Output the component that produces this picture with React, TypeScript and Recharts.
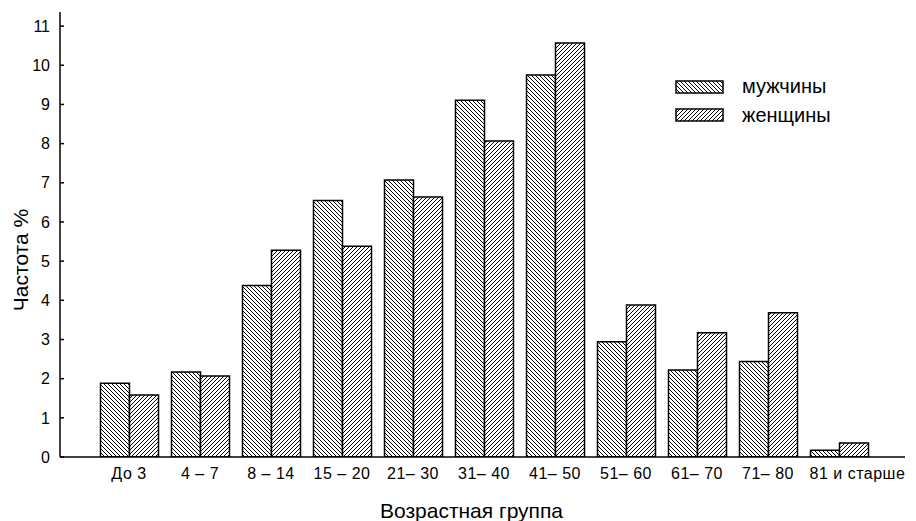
import React from 'react';
import { BarChart, Bar, XAxis, YAxis, Legend } from 'recharts';

const categories = ['До 3', '4 – 7', '8 – 14', '15 – 20', '21– 30', '31– 40', '41– 50', '51– 60', '61– 70', '71– 80', '81 и старше'];
const menValues = [1.88, 2.17, 4.38, 6.55, 7.07, 9.11, 9.75, 2.94, 2.22, 2.44, 0.17];
const womenValues = [1.58, 2.07, 5.28, 5.38, 6.64, 8.07, 10.57, 3.88, 3.17, 3.68, 0.36];
const yTicks = [0, 1, 2, 3, 4, 5, 6, 7, 8, 9, 10, 11];
const seriesNames = { men: 'мужчины', women: 'женщины' };
const xTitle = 'Возрастная группа';
const yTitle = 'Частота %';

const data = categories.map((c, i) => ({ group: c, men: menValues[i], women: womenValues[i] }));

const FONT = '"Liberation Sans", Arial, Helvetica, sans-serif';

const Patterns = ({ prefix }: { prefix: string }) => (
  <defs>
    <pattern id={`${prefix}-men`} patternUnits="userSpaceOnUse" width="4" height="4">
      <rect width="4" height="4" fill="#fff" />
      <path d="M0,0 L4,4 M-1,3 L1,5 M3,-1 L5,1" stroke="#000" strokeWidth="1" />
    </pattern>
    <pattern id={`${prefix}-women`} patternUnits="userSpaceOnUse" width="4" height="4">
      <rect width="4" height="4" fill="#fff" />
      <path d="M0,4 L4,0 M-1,1 L1,-1 M3,5 L5,3" stroke="#000" strokeWidth="1" />
    </pattern>
  </defs>
);

const XTick = (props: any) => {
  const { x, y, payload, index } = props;
  const last = index === categories.length - 1;
  return (
    <text
      x={last ? x - 29.5 : x}
      y={y + 22}
      textAnchor={last ? 'start' : 'middle'}
      fontFamily={FONT}
      fontSize={16}
      letterSpacing={0.5}
      fill="#000"
    >
      {payload.value}
    </text>
  );
};

const YTick = (props: any) => {
  const { x, y, payload } = props;
  return (
    <g>
      <line x1={x + 10} x2={x + 14} y1={y} y2={y} stroke="#000" strokeWidth={1.5} />
      <text x={x} y={y} dy="0.355em" textAnchor="end" fontFamily={FONT} fontSize={16} fill="#000">
        {payload.value}
      </text>
    </g>
  );
};

const LegendContent = () => (
  <svg width={200} height={60} style={{ display: 'block' }}>
    <Patterns prefix="lg" />
    <rect x={6} y={6} width={47} height={12} fill="url(#lg-men)" stroke="#000" strokeWidth={1.5} />
    <text x={72} y={18} fontFamily={FONT} fontSize={20} fill="#000">{seriesNames.men}</text>
    <rect x={6} y={34} width={47} height={12} fill="url(#lg-women)" stroke="#000" strokeWidth={1.5} />
    <text x={72} y={47} fontFamily={FONT} fontSize={20} fill="#000">{seriesNames.women}</text>
  </svg>
);

export default function App() {
  return (
    <div style={{ position: 'absolute', left: 0, top: 0, width: 916, height: 521, background: '#fff' }}>
      <BarChart
        width={916}
        height={521}
        data={data}
        margin={{ top: 12, right: 11, bottom: 0, left: 0 }}
        barSize={29}
        barGap={0}
      >
        <Patterns prefix="ch" />
        <XAxis
          dataKey="group"
          height={64}
          padding={{ left: 33.5, right: 30.5 }}
          tickLine={false}
          tickSize={0}
          tickMargin={0}
          interval={0}
          axisLine={{ stroke: '#000', strokeWidth: 1.5 }}
          tick={<XTick />}
          label={{
            content: () => (
              <text x={471.5} y={518} textAnchor="middle" fontFamily={FONT} fontSize={21} fill="#000">
                {xTitle}
              </text>
            ),
          }}
        />
        <YAxis
          width={60}
          domain={[0, 11.36]}
          ticks={yTicks}
          interval={0}
          tickLine={false}
          tickSize={0}
          tickMargin={10}
          axisLine={{ stroke: '#000', strokeWidth: 1.5 }}
          tick={<YTick />}
          allowDataOverflow
          label={{
            content: () => (
              <text
                transform="translate(28,260) rotate(-90)"
                textAnchor="middle"
                fontFamily={FONT}
                fontSize={21}
                fill="#000"
              >
                {yTitle}
              </text>
            ),
          }}
        />
        <Legend
          layout="horizontal"
          verticalAlign="middle"
          align="center"
          wrapperStyle={{ position: 'absolute', left: 670, top: 75, width: 200, height: 60 }}
          content={<LegendContent />}
        />
        <Bar dataKey="men" name={seriesNames.men} fill="url(#ch-men)" stroke="#000" strokeWidth={1.5} isAnimationActive={false} />
        <Bar dataKey="women" name={seriesNames.women} fill="url(#ch-women)" stroke="#000" strokeWidth={1.5} isAnimationActive={false} />
      </BarChart>
    </div>
  );
}
